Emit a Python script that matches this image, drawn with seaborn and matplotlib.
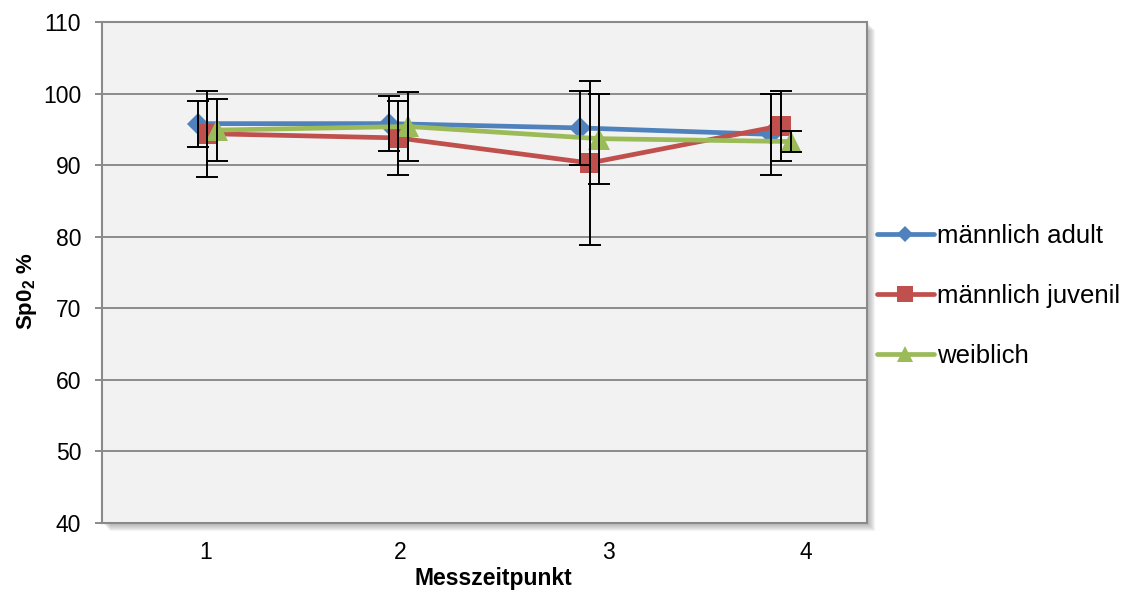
import numpy as np
import pandas as pd
import matplotlib.pyplot as plt
import matplotlib.patches as mpatches
import seaborn as sns

zeitpunkte = [1, 2, 3, 4]
gruppen = ['männlich adult', 'männlich juvenil', 'weiblich']
mittel_adult = [95.8, 95.8, 95.2, 94.3]
mittel_juvenil = [94.4, 93.8, 90.3, 95.5]
mittel_weiblich = [94.9, 95.4, 93.7, 93.3]
sd_adult = [3.2, 3.85, 5.2, 5.65]
sd_juvenil = [6.0, 5.15, 11.5, 4.9]
sd_weiblich = [4.3, 4.8, 6.3, 1.5]
tick_labels = ['1', '2', '3', '4']

# Darstellung
versatz = {'männlich adult': 0.0, 'männlich juvenil': 0.05, 'weiblich': 0.10}
farben = {'männlich adult': '#4F81BD', 'männlich juvenil': '#C0504D', 'weiblich': '#9BBB59'}
marker = {'männlich adult': 'D', 'männlich juvenil': 's', 'weiblich': '^'}
msize = {'männlich adult': 11, 'männlich juvenil': 14.5, 'weiblich': 15.5}
tick_pos = [1.04, 2.06, 3.15, 4.18]

#1 Long-Format DataFrame
df = pd.DataFrame({
    'Messzeitpunkt': zeitpunkte * 3,
    'Gruppe': np.repeat(gruppen, len(zeitpunkte)),
    'SpO2': mittel_adult + mittel_juvenil + mittel_weiblich,
    'SD': sd_adult + sd_juvenil + sd_weiblich,
})
df['x'] = df['Messzeitpunkt'] + df['Gruppe'].map(versatz)

sns.set_style('white')
plt.rcParams['font.family'] = ['Liberation Sans', 'DejaVu Sans']
plt.rcParams['text.color'] = 'black'
plt.rcParams['axes.labelcolor'] = 'black'
plt.rcParams['mathtext.fontset'] = 'custom'
plt.rcParams['mathtext.rm'] = 'Liberation Sans'
plt.rcParams['mathtext.bf'] = 'Liberation Sans:bold'

fig = plt.figure(figsize=(11.28, 5.94), dpi=100)
W, H = 1128, 594
x0, x1, y0, y1 = 102, 867, 22, 523
ax = fig.add_axes([x0 / W, 1 - y1 / H, (x1 - x0) / W, (y1 - y0) / H])
ax.set_facecolor('#F2F2F2')
ax.set_zorder(2)

#2 Schatten rechts/unten
for i in range(1, 9):
    fig.patches.append(mpatches.Rectangle(
        ((x0 + i) / W, 1 - (y1 + i) / H), (x1 - x0) / W, (y1 - y0) / H,
        transform=fig.transFigure, facecolor='#7f7f7f', edgecolor='none',
        alpha=0.09, zorder=0))

#3 Linien mit Markern
for g in gruppen:
    sub = df[df['Gruppe'] == g]
    sns.lineplot(data=sub, x='x', y='SpO2', color=farben[g], marker=marker[g],
                 markersize=msize[g], markeredgewidth=0, linewidth=3.4,
                 label=g, ax=ax, zorder=3)

#4 Fehlerbalken
for g in gruppen:
    sub = df[df['Gruppe'] == g]
    ax.errorbar(sub['x'], sub['SpO2'], yerr=sub['SD'], fmt='none', ecolor='black',
                elinewidth=1.4, capsize=8, capthick=1.4, zorder=4)

ax.set_xlim(0.5, 4.5)
ax.set_ylim(40, 110)
ax.set_yticks(range(40, 111, 10))
ax.set_xticks(tick_pos)
ax.set_xticklabels(tick_labels)
ax.yaxis.grid(True, color='#8C8C8C', linewidth=1.4)
ax.xaxis.grid(False)
for s in ax.spines.values():
    s.set_color('#8A8A8A')
    s.set_linewidth(1.5)
ax.tick_params(axis='y', left=True, length=5, width=1.4, color='#8A8A8A',
               pad=10, labelsize=16.5, labelcolor='black')
ax.tick_params(axis='x', bottom=False, length=0, pad=13, labelsize=16.5,
               labelcolor='black')

ax.set_xlabel('Messzeitpunkt', fontsize=16.5, fontweight='bold')
ax.set_ylabel('Sp0$_{\\mathbf{2}}$ %', fontsize=16, fontweight='bold')
ax.xaxis.set_label_coords(0.511, -0.087)
ax.yaxis.set_label_coords(-0.083, 0.462)

ax.legend(loc='center left', bbox_to_anchor=(877 / W, 1 - 296 / H),
          bbox_transform=fig.transFigure, frameon=False, fontsize=18.5,
          handlelength=2.2, handletextpad=0.15, labelspacing=1.4,
          borderpad=0, borderaxespad=0, markerscale=0.75)

plt.savefig('out.png', dpi=100)
